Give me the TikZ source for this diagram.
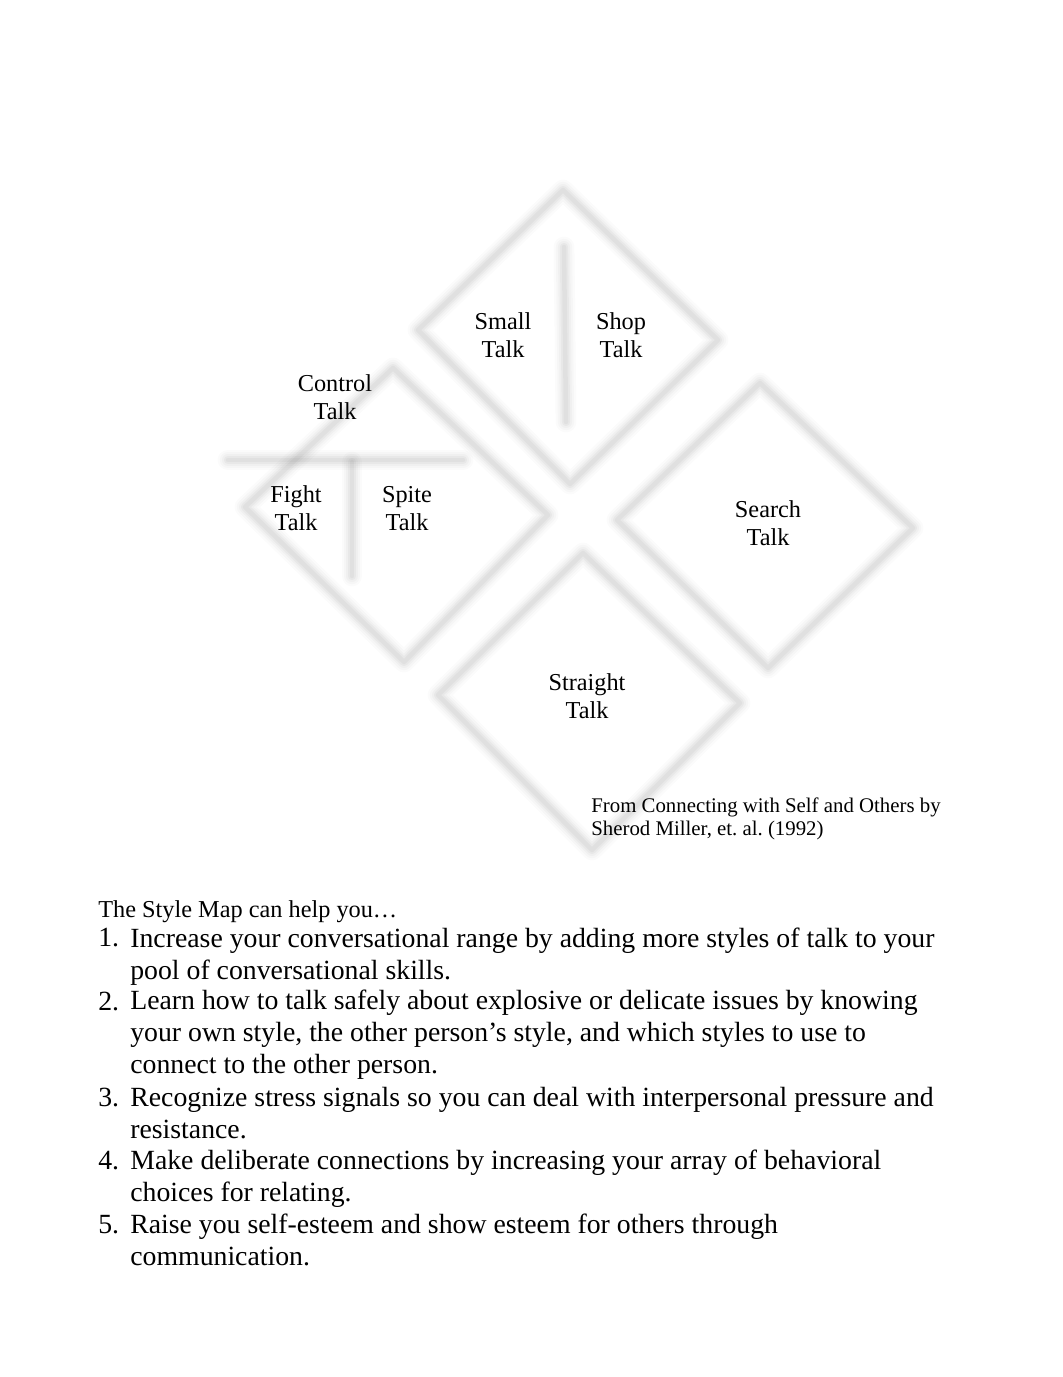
\documentclass[tikz,border=0pt]{standalone}
\usepackage{fontspec}
\setmainfont{Liberation Serif}
\frenchspacing
\usetikzlibrary{positioning}

\begin{document}
\begin{tikzpicture}[x=0.5763pt, y=-0.5763pt,
    blur/.style={draw=black, line join=round, line cap=round},
    mapline/.style={blur, draw opacity=0.035, line width=2.6pt,
        preaction={blur, draw opacity=0.03, line width=4.8pt},
        preaction={blur, draw opacity=0.025, line width=7pt},
        preaction={blur, draw opacity=0.02, line width=9.4pt},
        preaction={blur, draw opacity=0.015, line width=12pt}},
    talk/.style={align=center, inner sep=0pt, anchor=base, font=\fontsize{14}{16.1}\selectfont},
    note/.style={align=left, inner sep=0pt, anchor=base west, font=\fontsize{12}{12.7}\selectfont},
    head/.style={inner sep=0pt, anchor=base west, font=\fontsize{14}{16}\selectfont},
    itemnum/.style={inner sep=0pt, anchor=base west, font=\fontsize{16}{18.4}\selectfont},
    itemtext/.style={align=left, inner sep=0pt, anchor=base west, font=\fontsize{16}{18.4}\selectfont}
    ]
\useasboundingbox (0,0) rectangle (1062,1377);
% \draw[help lines] (0,0) grid[step=100] (1062,1377);

% the style map
\draw[mapline] (563,190) -- (718,340) -- (570,484) -- (418,330) -- cycle;
\draw[mapline] (564,247) -- (566,422);
\draw[mapline] (393,368) -- (548,515) -- (404,662) -- (245,507) -- cycle;
\draw[mapline] (228,460) -- (463,460);
\draw[mapline] (352,462) -- (352,576);
\draw[mapline] (760,383) -- (913,528) -- (768,668) -- (617,520) -- cycle;
\draw[mapline] (583,553) -- (740,703) -- (592,850) -- (438,695) -- cycle;

\node[talk] (small)    at (503,357) {Small\\Talk};
\node[talk] (shop)     at (621,357) {Shop\\Talk};
\node[talk] (control)  at (335,419) {Control\\Talk};
\node[talk] (fight)    at (296,530) {Fight\\Talk};
\node[talk] (spite)    at (407,530) {Spite\\Talk};
\node[talk] (search)   at (768,545) {Search\\Talk};
\node[talk] (straight) at (587,718) {Straight\\Talk};

\node[note] (source) at (591,835) {From Connecting with Self and Others by\\Sherod Miller, et. al. (1992)};

% the list
\node[head] (intro) at (98,917) {The Style Map can help you…};

\node[itemnum] (n1) at (98,946)  {1.};
\node[itemnum] (n2) at (98,1010) {2.};
\node[itemnum] (n3) at (98,1106) {3.};
\node[itemnum] (n4) at (98,1169) {4.};
\node[itemnum] (n5) at (98,1233) {5.};

\node[itemtext] (i1) at (130,979)  {Increase your conversational range by adding more styles of talk to your\\pool of conversational skills.};
\node[itemtext] (i2) at (130,1073) {Learn how to talk safely about explosive or delicate issues by knowing\\your own style, the other person’s style, and which styles to use to\\connect to the other person.};
\node[itemtext] (i3) at (130,1138) {Recognize stress signals so you can deal with interpersonal pressure and\\resistance.};
\node[itemtext] (i4) at (130,1201) {Make deliberate connections by increasing your array of behavioral\\choices for relating.};
\node[itemtext] (i5) at (130,1265) {Raise you self-esteem and show esteem for others through\\communication.};
\end{tikzpicture}
\end{document}
